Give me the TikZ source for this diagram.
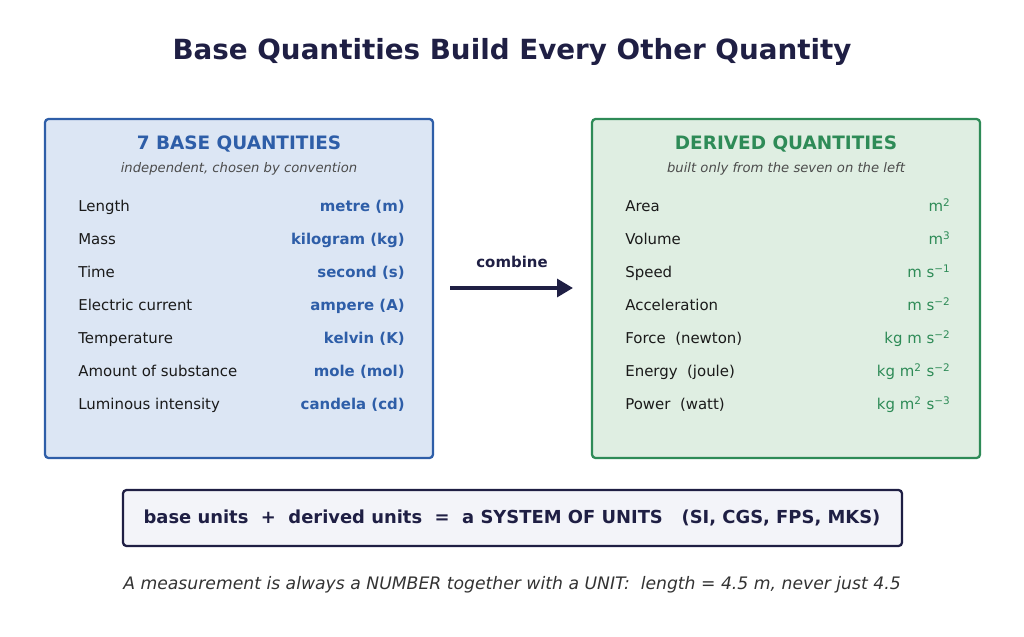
\documentclass[tikz,border=0pt]{standalone}
\usepackage{fontspec}
\setmainfont{DejaVu Sans}
\usetikzlibrary{arrows.meta}
\definecolor{navy}{HTML}{1F1F44}
\definecolor{baseblue}{HTML}{2E5EA8}
\definecolor{basefill}{HTML}{DCE6F4}
\definecolor{derivgreen}{HTML}{2E8B57}
\definecolor{derivfill}{HTML}{DFEEE2}
\definecolor{sumfill}{HTML}{F3F4F9}
\definecolor{rowtext}{HTML}{1A1A1A}
\begin{document}
\begin{tikzpicture}[x=0.02cm, y=-0.02cm,
    panel/.style={rounded corners=2pt, line width=1.3pt},
    row/.style={anchor=base west, inner sep=0pt, text=rowtext, font=\fontsize{8.5}{10}\selectfont},
    unit/.style={anchor=base east, inner sep=0pt, font=\fontsize{8.5}{10}\selectfont},]
    \useasboundingbox (0,0) rectangle (1024,636);

    \node[text=navy, font=\bfseries\fontsize{15.8}{18}\selectfont] (title) at (512,52) {Base Quantities Build Every Other Quantity};

    % base panel
    \draw[panel, draw=baseblue, fill=basefill] (45,119) rectangle (433,458);
    \node[text=baseblue, font=\bfseries\fontsize{10.5}{12}\selectfont] (bhead) at (239,144) {7 BASE QUANTITIES};
    \node[text=black!70, font=\itshape\fontsize{7.5}{9}\selectfont] (bsub) at (239,169) {independent, chosen by convention};
    \foreach \lbl/\unt [count=\i] in {Length/metre (m), Mass/kilogram (kg), Time/second (s),
        Electric current/ampere (A), Temperature/kelvin (K), Amount of substance/mole (mol),
        Luminous intensity/candela (cd)}{
        \node[row] (bq\i) at (78,{211+33*(\i-1)}) {\lbl};
        \node[unit, text=baseblue, font=\bfseries\fontsize{8.5}{10}\selectfont] (bu\i) at (405,{211+33*(\i-1)}) {\unt};
    }

    % derived panel
    \draw[panel, draw=derivgreen, fill=derivfill] (592,119) rectangle (980,458);
    \node[text=derivgreen, font=\bfseries\fontsize{10.5}{12}\selectfont] (dhead) at (786,144) {DERIVED QUANTITIES};
    \node[text=black!70, font=\itshape\fontsize{7.5}{9}\selectfont] (dsub) at (786,169) {built only from the seven on the left};
    \foreach \lbl/\unt [count=\i] in {Area/m\textsuperscript{2}, Volume/m\textsuperscript{3},
        Speed/m s\textsuperscript{−1}, Acceleration/m s\textsuperscript{−2},
        Force~~(newton)/kg m s\textsuperscript{−2}, Energy~~(joule)/kg m\textsuperscript{2} s\textsuperscript{−2},
        Power~~(watt)/kg m\textsuperscript{2} s\textsuperscript{−3}}{
        \node[row] (dq\i) at (625,{211+33*(\i-1)}) {\lbl};
        \node[unit, text=derivgreen] (du\i) at (951,{211+33*(\i-1)}) {\unt};
    }

    % arrow
    \coordinate (afrom) at (450,288);
    \coordinate (ato) at (573,288);
    \draw[navy, line width=2.2pt, -{Triangle[length=9pt,width=10pt]}] (afrom) -- (ato);
    \node[text=navy, font=\bfseries\fontsize{8.5}{10}\selectfont] (comb) at (512,262) {combine};

    % summary
    \draw[panel, draw=navy, fill=sumfill] (123,490) rectangle (902,546);
    \node[text=navy, font=\bfseries\fontsize{10.2}{12}\selectfont] (sum) at (512,518)
        {base units~~+~~derived units~~=~~a SYSTEM OF UNITS~~~(SI, CGS, FPS, MKS)};

    \node[text=black!80, font=\itshape\fontsize{9.8}{11}\selectfont] (foot) at (512,585)
        {A measurement is always a NUMBER together with a UNIT:~~length = 4.5 m, never just 4.5};
\end{tikzpicture}
\end{document}
